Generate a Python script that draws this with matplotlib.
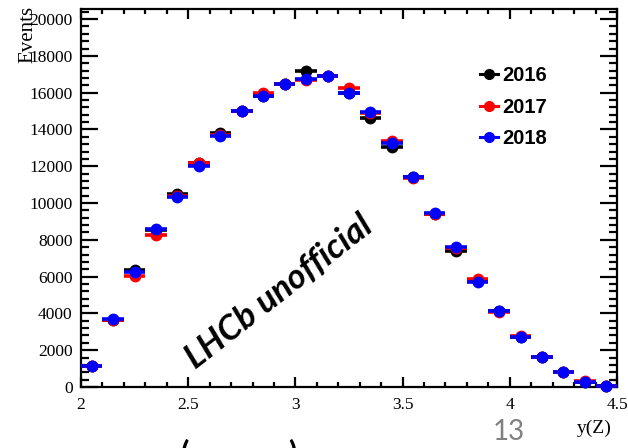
import matplotlib
matplotlib.use("Agg")
import matplotlib.pyplot as plt
from matplotlib.lines import Line2D
from matplotlib.ticker import MultipleLocator
import numpy as np

bin_centers = [2.05, 2.15, 2.25, 2.35, 2.45, 2.55, 2.65, 2.75, 2.85, 2.95,
               3.05, 3.15, 3.25, 3.35, 3.45, 3.55, 3.65, 3.75, 3.85, 3.95,
               4.05, 4.15, 4.25, 4.35, 4.45]
bin_half_width = 0.05

events_2016 = [1120, 3660, 6360, 8520, 10470, 12190, 13820, 14990, 15820, 16470,
               17160, 16900, 15980, 14600, 13030, 11400, 9430, 7420, 5760, 4120,
               2710, 1650, 820, 280, 40]
events_2017 = [1130, 3620, 6030, 8260, 10360, 12190, 13700, 14990, 15960, 16450,
               16700, 16900, 16270, 14920, 13350, 11350, 9430, 7560, 5870, 4100,
               2790, 1650, 820, 300, 40]
events_2018 = [1140, 3680, 6230, 8590, 10340, 12030, 13660, 14990, 15820, 16470,
               16720, 16900, 15960, 14960, 13280, 11430, 9440, 7620, 5720, 4130,
               2700, 1650, 830, 290, 50]

series = [("2016", events_2016, "black"),
          ("2017", events_2017, "#ff0000"),
          ("2018", events_2018, "#0000ff")]

fig = plt.figure(figsize=(6.28, 4.48), dpi=100)
ax = fig.add_axes([81/628, 61/448, 536/628, 378/448])

for label, vals, col in series:
    ax.errorbar(bin_centers, vals, xerr=bin_half_width, fmt='o', color=col,
                ecolor=col, elinewidth=2.6, capsize=0, markersize=7.5,
                clip_on=False, zorder=3)

ax.set_xlim(2, 4.5)
ax.set_ylim(0, 20550)
ax.xaxis.set_major_locator(MultipleLocator(0.5))
ax.xaxis.set_minor_locator(MultipleLocator(0.1))
ax.yaxis.set_major_locator(MultipleLocator(2000))
ax.yaxis.set_minor_locator(MultipleLocator(400))
ax.set_xticks([2, 2.5, 3, 3.5, 4, 4.5])
ax.set_xticklabels(["2", "2.5", "3", "3.5", "4", "4.5"])

for s in ax.spines.values():
    s.set_linewidth(1.6)

ax.tick_params(axis='both', which='both', direction='in', top=True, right=True,
               width=1.6, labelsize=12.5)
ax.tick_params(axis='y', which='major', length=12.5, pad=6)
ax.tick_params(axis='y', which='minor', length=6)
ax.tick_params(axis='x', which='major', length=7.5, pad=7)
ax.tick_params(axis='x', which='minor', length=3.8)
for t in ax.get_xticklabels() + ax.get_yticklabels():
    t.set_family(["Liberation Serif", "DejaVu Serif"])

# axis titles (ROOT style)
fig.text(28/628, 1 - 6/448, "Events", rotation=90, ha='center', va='top',
         fontsize=15, family=["Liberation Serif", "DejaVu Serif"])
fig.text(612/628, 1 - 428/448, "y(Z)", ha='right', va='center',
         fontsize=14, family=["Liberation Serif", "DejaVu Serif"])

# legend
handles = [Line2D([0], [0], color=c, marker='o', markersize=7, linewidth=2.2)
           for _, _, c in series]
leg = ax.legend(handles, [s[0] for s in series], loc='upper left',
                bbox_to_anchor=((462 - 81)/536, (387 - 48)/378), frameon=False,
                handlelength=0.9, handletextpad=0.2, labelspacing=0.62,
                prop={'family': ['Liberation Sans', 'DejaVu Sans'],
                      'weight': 'bold', 'size': 14.5})

# watermark
fig.text(279/628, 1 - 292/448, "LHCb unofficial", rotation=38, ha='center',
         va='center', fontsize=25, fontweight='bold', fontstyle='italic',
         family=["Lato", "DejaVu Sans"], rotation_mode='anchor')

# slide page number and cut-off slide text
fig.text(509/628, 1 - 432/448, "13", ha='center', va='center', fontsize=20,
         color='#808080', family=["Lato", "DejaVu Sans"])
fig.text(185/628, 1 - 438/448, "(", ha='center', va='top', fontsize=22,
         fontweight='bold', family=["Lato", "DejaVu Sans"])
fig.text(292/628, 1 - 438/448, ")", ha='center', va='top', fontsize=22,
         fontweight='bold', family=["Lato", "DejaVu Sans"])

fig.savefig("out.png", dpi=100)
